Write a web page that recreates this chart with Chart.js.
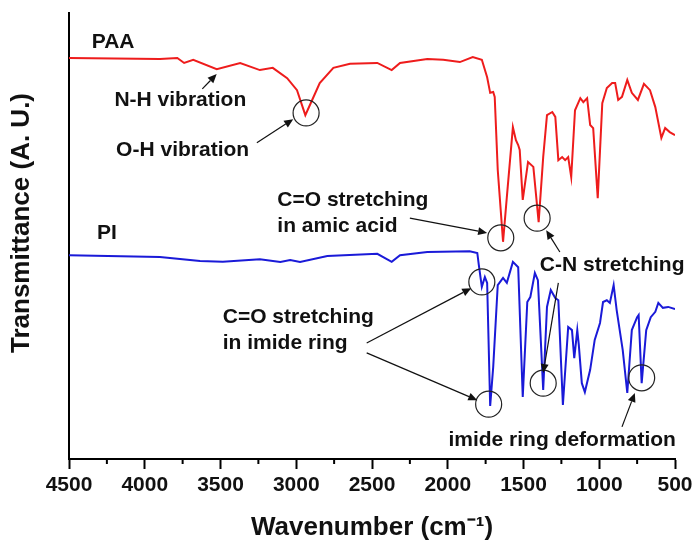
<!DOCTYPE html>
<html>
<head>
<meta charset="utf-8">
<script src="https://cdn.jsdelivr.net/npm/chart.js@4.4.0/dist/chart.umd.min.js"></script>
<style>
  body { margin: 0; background: #fff; }
</style>
</head>
<body>
<canvas id="ftirChart" width="694" height="546"></canvas>
<script>
// wavenumbers (cm-1) and transmittance (a.u.)
var paaWn = [4500,3900,3785,3740,3680,3525,3370,3240,3155,3060,2995,2940,2895,2845,2755,2645,2465,2370,2315,2135,2030,1920,1835,1775,1740,1720,1700,1690,1670,1635,1610,1570,1550,1535,1525,1505,1470,1435,1400,1370,1345,1310,1290,1270,1245,1225,1205,1185,1160,1125,1105,1080,1060,1040,1010,980,950,915,895,875,850,815,785,745,705,665,630,590,565,535,500];
var paaT = [89.9,89.7,89.9,88.8,89.5,87.4,88.8,87.2,87.7,85.4,82.7,77.1,80.5,84.3,87.7,88.6,88.8,87.2,88.8,89.7,89.5,89.0,90.1,89.5,85.6,82.1,82.3,81.2,64.8,48.7,58.7,74.4,71.5,70.4,69.3,58.1,66.6,65.5,53.1,67.7,77.1,77.8,76.7,67.0,67.7,67.0,67.7,63.2,78.2,80.9,80.0,80.9,74.9,74.2,58.5,79.8,83.2,84.3,84.3,80.5,81.2,85.0,82.1,80.5,84.1,82.7,78.9,72.0,74.2,73.3,72.6];

var piWn = [4500,3900,3635,3485,3240,3105,3040,2975,2795,2465,2370,2315,2135,1855,1805,1795,1775,1755,1740,1720,1700,1670,1635,1610,1570,1535,1505,1475,1455,1425,1405,1370,1345,1320,1290,1270,1240,1205,1180,1165,1145,1135,1115,1095,1060,1030,995,975,950,930,905,885,865,845,815,785,750,740,720,690,660,630,610,580,545,500];
var piT = [45.7,45.3,44.4,44.2,44.8,44.2,44.6,44.2,45.5,46.0,44.2,45.7,46.4,46.6,46.2,43.5,38.6,40.8,39.5,11.9,20.6,39.0,40.6,39.5,44.2,43.0,13.9,35.2,36.3,41.7,40.1,15.5,34.1,37.9,36.1,35.6,12.1,29.6,28.9,22.6,28.9,25.6,17.0,15.0,20.0,26.7,30.5,35.2,35.6,35.0,39.0,33.4,28.9,24.4,14.8,28.9,31.8,32.3,17.0,28.9,31.8,33.0,35.0,33.9,34.1,33.6];

var majorTicks = [4500,4000,3500,3000,2500,2000,1500,1000,500];
var minorTicks = [4250,3750,3250,2750,2250,1750,1250,750];

// annotation texts: [lines, wavenumber, transmittance, align]
var noteTexts = [
  [['PAA'], 4350, 93.5, 'left'],
  [['PI'], 4315, 50.7, 'left'],
  [['N-H vibration'], 3765, 80.5, 'center'],
  [['O-H vibration'], 3750, 69.3, 'center'],
  [['C=O stretching', 'in amic acid'], 3125, 58.1, 'left'],
  [['C-N stretching'], 915, 43.5, 'center'],
  [['C=O stretching', 'in imide ring'], 3485, 31.8, 'left'],
  [['imide ring deformation'], 1245, 4.3, 'center']
];
// circled peaks: wavenumber, transmittance
var circleWn = [2935, 1650, 1410, 1775, 1730, 1370, 720];
var circleT = [77.6, 49.6, 54.0, 39.7, 12.3, 17.0, 18.2];
// arrows: [fromWn, fromT, toWn, toT]
var arrows = [
  [3620, 83.0, 3525, 86.3],
  [3260, 70.9, 3020, 76.2],
  [2250, 54.0, 1740, 50.7],
  [1260, 46.4, 1350, 51.3],
  [1270, 39.5, 1370, 19.3],
  [2535, 26.0, 1845, 38.3],
  [2535, 23.8, 1805, 13.2],
  [850, 7.2, 765, 14.8]
];

function toPoints(xs, ys) {
  return xs.map(function (x, i) { return { x: x, y: ys[i] }; });
}

var FONT = '"Liberation Sans", Arial, sans-serif';

var notesPlugin = {
  id: 'notes',
  afterDatasetsDraw: function (chart) {
    var ctx = chart.ctx;
    var xs = chart.scales.x, ys = chart.scales.y;
    ctx.save();
    // circles
    ctx.strokeStyle = '#222';
    ctx.lineWidth = 1.2;
    circleWn.forEach(function (w, i) {
      ctx.beginPath();
      ctx.arc(xs.getPixelForValue(w), ys.getPixelForValue(circleT[i]), 13, 0, Math.PI * 2);
      ctx.stroke();
    });
    // arrows
    ctx.fillStyle = '#111';
    ctx.strokeStyle = '#111';
    arrows.forEach(function (a) {
      var x1 = xs.getPixelForValue(a[0]), y1 = ys.getPixelForValue(a[1]);
      var x2 = xs.getPixelForValue(a[2]), y2 = ys.getPixelForValue(a[3]);
      var ang = Math.atan2(y2 - y1, x2 - x1);
      var hl = 9, hw = 4;
      ctx.beginPath();
      ctx.moveTo(x1, y1);
      ctx.lineTo(x2 - hl * Math.cos(ang), y2 - hl * Math.sin(ang));
      ctx.stroke();
      ctx.beginPath();
      ctx.moveTo(x2, y2);
      ctx.lineTo(x2 - hl * Math.cos(ang) + hw * Math.sin(ang), y2 - hl * Math.sin(ang) - hw * Math.cos(ang));
      ctx.lineTo(x2 - hl * Math.cos(ang) - hw * Math.sin(ang), y2 - hl * Math.sin(ang) + hw * Math.cos(ang));
      ctx.closePath();
      ctx.fill();
    });
    // texts
    ctx.fillStyle = '#111';
    ctx.font = 'bold 21px ' + FONT;
    ctx.textBaseline = 'middle';
    noteTexts.forEach(function (n) {
      ctx.textAlign = n[3];
      var x = xs.getPixelForValue(n[1]), y = ys.getPixelForValue(n[2]);
      n[0].forEach(function (line, k) {
        ctx.fillText(line, x, y + k * 26);
      });
    });
    // minor ticks on x axis
    ctx.strokeStyle = '#000';
    ctx.lineWidth = 2;
    minorTicks.forEach(function (w) {
      var px = xs.getPixelForValue(w);
      ctx.beginPath();
      ctx.moveTo(px, xs.top);
      ctx.lineTo(px, xs.top + 5);
      ctx.stroke();
    });
    // y axis title
    ctx.font = 'bold 26px ' + FONT;
    ctx.textAlign = 'center';
    ctx.translate(22, 223);
    ctx.rotate(-Math.PI / 2);
    ctx.fillText('Transmittance (A. U.)', 0, 0);
    ctx.restore();
  }
};

var ctxF = document.getElementById('ftirChart').getContext('2d');
var ftirChart = new Chart(ctxF, {
  type: 'line',
  data: {
    datasets: [{
        label: 'PAA',
        data: toPoints(paaWn, paaT),
        borderColor: '#ee1c1c',
        borderWidth: 2,
        pointRadius: 0,
        tension: 0
      },
      {
        label: 'PI',
        data: toPoints(piWn, piT),
        borderColor: '#1a1ad8',
        borderWidth: 2,
        pointRadius: 0,
        tension: 0
      }
    ]
  },
  options: {
    responsive: false,
    animation: false,
    layout: { padding: { left: 0, right: 19, top: 13, bottom: 0 } },
    plugins: {
      legend: { display: false },
      tooltip: { enabled: false }
    },
    scales: {
      x: {
        type: 'linear',
        reverse: true,
        min: 500,
        max: 4500,
        afterFit: function (s) { s.height = 87; s.paddingLeft = 0; s.paddingRight = 0; },
        afterBuildTicks: function (s) {
          s.ticks = majorTicks.map(function (v) { return { value: v }; });
        },
        border: { display: true, color: '#000', width: 2 },
        grid: { drawOnChartArea: false, drawTicks: true, tickLength: 10, tickColor: '#000', tickWidth: 2 },
        ticks: {
          color: '#111',
          padding: 4,
          maxRotation: 0,
          autoSkip: false,
          font: { family: FONT, size: 21, weight: 'bold' },
          callback: function (v) { return String(v); }
        },
        title: {
          display: true,
          text: 'Wavenumber (cm\u207B\u00B9)',
          color: '#111',
          padding: { top: 0, bottom: 3 },
          font: { family: FONT, size: 26, weight: 'bold' }
        }
      },
      y: {
        min: 0,
        max: 100,
        afterFit: function (s) { s.width = 69; },
        border: { display: true, color: '#000', width: 2 },
        grid: { display: false },
        ticks: { display: false }
      }
    }
  },
  plugins: [notesPlugin]
});
</script>
</body>
</html>
